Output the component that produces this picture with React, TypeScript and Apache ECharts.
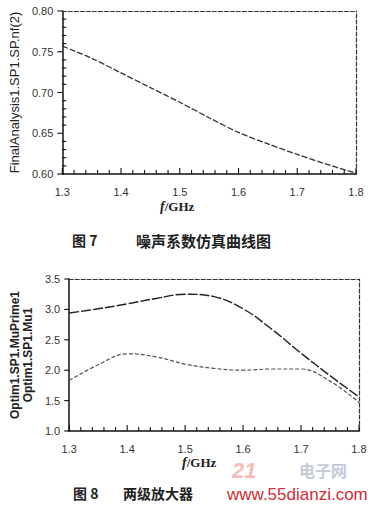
import React, { useEffect, useRef } from "react";
import * as echarts from "echarts";

const freq = [1.3, 1.35, 1.4, 1.45, 1.5, 1.55, 1.6, 1.65, 1.7, 1.75, 1.8];
const noiseFigure = [0.757, 0.742, 0.724, 0.706, 0.688, 0.669, 0.651, 0.637, 0.624, 0.612, 0.601];
const muPrime = [2.94, 3.01, 3.09, 3.18, 3.25, 3.21, 3.01, 2.67, 2.28, 1.91, 1.56];
const mu = [1.83, 2.09, 2.27, 2.22, 2.1, 2.03, 2.0, 2.02, 2.02, 1.82, 1.47];

const xTicks = [1.3, 1.4, 1.5, 1.6, 1.7, 1.8];
const yTicks1 = [0.6, 0.65, 0.7, 0.75, 0.8];
const yTicks2 = [1.0, 1.5, 2.0, 2.5, 3.0, 3.5];

const fig7Caption = ["图 7", "噪声系数仿真曲线图"];
const fig8Caption = ["图 8", "两级放大器"];
const yName1 = "FinalAnalysis1.SP1.SP.nf(2)";
const yName2 = "Optim1.SP1.MuPrime1\nOptim1.SP1.Mu1";
const watermark = "www.55dianzi.com";

const SANS = "'Liberation Sans', Arial, sans-serif";
const SERIF = "'Liberation Serif', 'Times New Roman', serif";
const CJK = "'Noto Sans CJK SC', sans-serif";

function pairs(xs: number[], ys: number[]) {
  return xs.map((x, i) => [x, ys[i]]);
}

function minors(ticks: number[], parts: number) {
  const out: number[] = [];
  for (let i = 0; i < ticks.length - 1; i++) {
    const step = (ticks[i + 1] - ticks[i]) / parts;
    for (let k = 1; k < parts; k++) out.push(+(ticks[i] + step * k).toFixed(4));
  }
  return out;
}

export default function App() {
  const ref = useRef<HTMLDivElement>(null);
  useEffect(() => {
    if (!ref.current) return;
    const chart = echarts.init(ref.current, undefined, { renderer: "svg" });

    const labelStyle = { fontSize: 11, color: "#333", fontFamily: SANS };
    const solidAxis = () => ({ show: true, onZero: false, lineStyle: { color: "#111", width: 1.5 } });
    const dashedAxis = () => ({ show: true, onZero: false, lineStyle: { color: "#333", width: 1.2, type: [4, 2] } });

    const bottomX = (grid: number) => ({
      type: "value",
      gridIndex: grid,
      min: 1.3,
      max: 1.8,
      interval: 0.1,
      position: "bottom",
      axisLine: solidAxis(),
      axisTick: { show: false },
      splitLine: { show: false },
      axisLabel: { ...labelStyle, margin: 12, formatter: (v: number) => v.toFixed(1) },
    });
    const topX = (grid: number) => ({
      type: "value",
      gridIndex: grid,
      min: 1.3,
      max: 1.8,
      position: "top",
      axisLine: dashedAxis(),
      axisTick: { show: false },
      axisLabel: { show: false },
      splitLine: { show: false },
    });
    const rightY = (grid: number, min: number, max: number) => ({
      type: "value",
      gridIndex: grid,
      min,
      max,
      position: "right",
      axisLine: dashedAxis(),
      axisTick: { show: false },
      axisLabel: { show: false },
      splitLine: { show: false },
    });

    const option: any = {
      animation: false,
      backgroundColor: "#ffffff",
      grid: [
        { left: 58, top: 11, width: 298, height: 163 },
        { left: 63, top: 279, width: 296, height: 152 },
      ],
      xAxis: [bottomX(0), topX(0), bottomX(1), topX(1)],
      yAxis: [
        {
          type: "value",
          gridIndex: 0,
          min: 0.6,
          max: 0.8,
          interval: 0.05,
          position: "left",
          axisLine: solidAxis(),
          axisTick: { show: false },
          splitLine: { show: false },
          axisLabel: { ...labelStyle, margin: 9, formatter: (v: number) => v.toFixed(2) },
          name: yName1,
          nameLocation: "middle",
          nameRotate: 90,
          nameGap: 40,
          nameTextStyle: { fontSize: 13, color: "#222", fontFamily: SANS },
        },
        rightY(0, 0.6, 0.8),
        {
          type: "value",
          gridIndex: 1,
          min: 1.0,
          max: 3.5,
          interval: 0.5,
          position: "left",
          axisLine: solidAxis(),
          axisTick: { show: false },
          splitLine: { show: false },
          axisLabel: { ...labelStyle, margin: 9, formatter: (v: number) => v.toFixed(1) },
          name: yName2,
          nameLocation: "middle",
          nameRotate: 90,
          nameGap: 29,
          nameTextStyle: {
            fontSize: 12,
            fontWeight: "bold",
            lineHeight: 13,
            color: "#222",
            fontFamily: SANS,
            align: "center",
          },
        },
        rightY(1, 1.0, 3.5),
      ],
      series: [
        {
          type: "line",
          xAxisIndex: 0,
          yAxisIndex: 0,
          data: pairs(freq, noiseFigure),
          showSymbol: false,
          symbol: "none",
          smooth: 0.3,
          lineStyle: { color: "#333", width: 1.3, type: [6, 2] },
        },
        {
          type: "line",
          xAxisIndex: 2,
          yAxisIndex: 2,
          data: pairs(freq, muPrime),
          showSymbol: false,
          symbol: "none",
          smooth: 0.4,
          lineStyle: { color: "#222", width: 1.4, type: [10, 2] },
        },
        {
          type: "line",
          xAxisIndex: 2,
          yAxisIndex: 2,
          data: pairs(freq, mu),
          showSymbol: false,
          symbol: "none",
          smooth: 0.4,
          lineStyle: { color: "#555", width: 1.2, type: [4, 2] },
        },
      ],
      graphic: [
        {
          type: "text",
          x: 160,
          y: 206,
          style: {
            text: "{i|f}{b|/GHz}",
            rich: {
              i: { fontFamily: SERIF, fontStyle: "italic", fontWeight: "bold", fontSize: 14, fill: "#222" },
              b: { fontFamily: SERIF, fontWeight: "bold", fontSize: 13, fill: "#222" },
            },
            verticalAlign: "middle",
          },
        },
        {
          type: "text",
          x: 182,
          y: 462,
          style: {
            text: "{i|f}{b|/GHz}",
            rich: {
              i: { fontFamily: SERIF, fontStyle: "italic", fontWeight: "bold", fontSize: 14, fill: "#222" },
              b: { fontFamily: SERIF, fontWeight: "bold", fontSize: 13, fill: "#222" },
            },
            verticalAlign: "middle",
          },
        },
        { type: "text", x: 72, y: 240, style: { text: fig7Caption[0], font: `bold 14px ${CJK}`, fill: "#222", verticalAlign: "middle" } },
        { type: "text", x: 136, y: 240, style: { text: fig7Caption[1], font: `bold 15px ${CJK}`, fill: "#222", verticalAlign: "middle" } },
        { type: "text", x: 299, y: 470, style: { text: "电子网", font: `bold 16px ${CJK}`, fill: "#c4cbd9", verticalAlign: "middle" } },
        { type: "text", x: 232, y: 470, style: { text: "21", font: `italic bold 22px ${SANS}`, fill: "#f6bcbc", verticalAlign: "middle" } },
        { type: "text", x: 73, y: 493, style: { text: fig8Caption[0], font: `bold 14px ${CJK}`, fill: "#222", verticalAlign: "middle" } },
        { type: "text", x: 123, y: 493, style: { text: fig8Caption[1], font: `bold 14px ${CJK}`, fill: "#222", verticalAlign: "middle" } },
        { type: "text", x: 227, y: 494, style: { text: watermark, font: `17px ${SANS}`, fill: "#d42a33", verticalAlign: "middle" } },
      ],
    };
    chart.setOption(option);

    // tick marks placed through the axis scales (convertToPixel)
    const tickEls: any[] = [];
    const addTicks = (grid: number, dir: "x" | "y", values: number[], fixed: number, len: number) => {
      values.forEach((v) => {
        const p = chart.convertToPixel({ gridIndex: grid } as any, dir === "x" ? [v, fixed] : [fixed, v]) as number[];
        if (!p) return;
        const shape =
          dir === "x"
            ? { x1: p[0], y1: p[1], x2: p[0], y2: p[1] - len }
            : { x1: p[0], y1: p[1], x2: p[0] + len, y2: p[1] };
        tickEls.push({ type: "line", shape, silent: true, z: 100, style: { stroke: "#111", lineWidth: 1.1 } });
      });
    };
    addTicks(0, "x", xTicks, 0.6, 6);
    addTicks(0, "x", minors(xTicks, 5), 0.6, 4);
    addTicks(0, "y", yTicks1, 1.3, -5);
    addTicks(0, "y", minors(yTicks1, 5), 1.3, 4);
    addTicks(1, "x", xTicks, 1.0, 6);
    addTicks(1, "x", minors(xTicks, 5), 1.0, 4);
    addTicks(1, "y", yTicks2, 1.3, -5);
    chart.setOption({ graphic: [...option.graphic, ...tickEls] });

    return () => chart.dispose();
  }, []);

  return (
    <div
      ref={ref}
      style={{ position: "fixed", left: 0, top: 0, width: 371, height: 506, background: "#fff" }}
    />
  );
}
